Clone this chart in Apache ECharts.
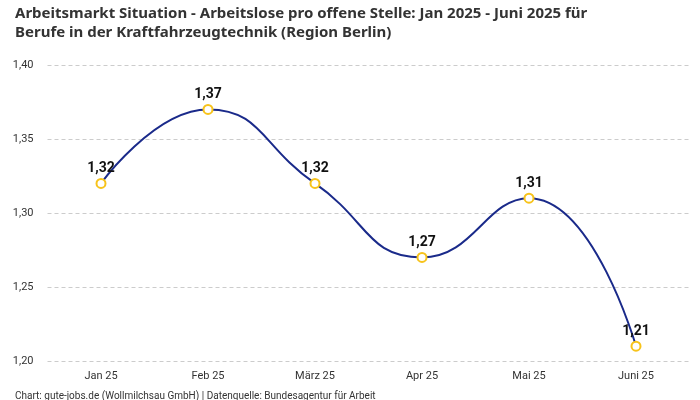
<!DOCTYPE html>
<html><head><meta charset="utf-8">
<script src="https://cdn.jsdelivr.net/npm/echarts@6/dist/echarts.min.js"></script>
<style>html,body{margin:0;padding:0;background:#fff}#c{width:700px;height:400px}</style>
</head><body><div id="c"></div>
<script>
const categories = ['Jan 25','Feb 25','März 25','Apr 25','Mai 25','Juni 25'];
const values = [1.32, 1.37, 1.32, 1.27, 1.31, 1.21];
const titleText = 'Arbeitsmarkt Situation - Arbeitslose pro offene Stelle: Jan 2025 - Juni 2025 für\nBerufe in der Kraftfahrzeugtechnik (Region Berlin)';
const footerText = 'Chart: gute-jobs.de (Wollmilchsau GmbH) | Datenquelle: Bundesagentur für Arbeit';
const fmt = v => v.toFixed(2).replace('.', ',');
const font = 'Roboto, "Noto Sans", sans-serif';
const chart = echarts.init(document.getElementById('c'));
chart.setOption({
  animation: false,
  title: [{
    text: titleText, left: 10, top: -1,
    textStyle: {fontFamily: '"Noto Sans", sans-serif', fontSize: 15, fontWeight: 'bold', color: '#333', lineHeight: 19}
  },{
    text: footerText, left: 10, top: 386,
    textStyle: {fontFamily: font, fontSize: 10, fontWeight: 'normal', color: '#333'}
  }],
  grid: {left: 47.5, right: 10.5, top: 65, bottom: 39},
  xAxis: {
    type: 'category', data: categories, boundaryGap: true,
    axisLine: {show: false}, axisTick: {show: false},
    axisLabel: {fontFamily: font, fontSize: 11, color: '#333', margin: 10}
  },
  yAxis: {
    type: 'value', min: 1.2, max: 1.4, interval: 0.05,
    axisLabel: {fontFamily: font, fontSize: 11, color: '#333', margin: 14, formatter: v => fmt(v)},
    splitLine: {lineStyle: {type: [4, 3], color: '#cccccc'}}
  },
  series: [{
    type: 'line', data: values, smooth: 0.5,
    lineStyle: {color: '#1a2a8a', width: 2},
    symbol: 'circle', symbolSize: 9,
    itemStyle: {color: '#fff', borderColor: '#f7c31b', borderWidth: 2},
    label: {show: true, position: 'top', distance: 2, formatter: p => fmt(p.value),
      fontFamily: font, fontSize: 14, fontWeight: 'bold', color: '#111'}
  }]
});
</script></body></html>
